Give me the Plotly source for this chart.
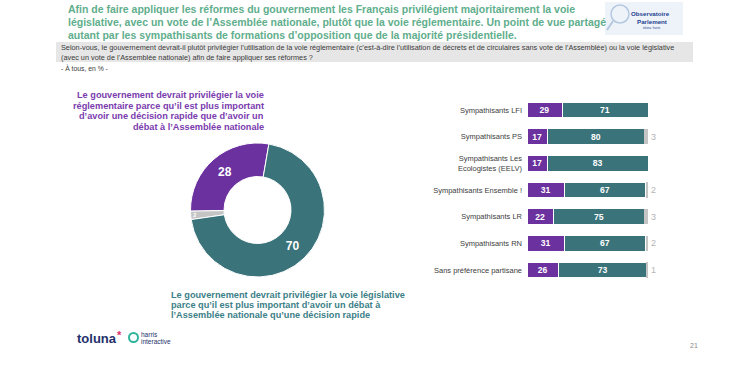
import plotly.graph_objects as go

W, H = 750, 378

# ---------------- data ----------------
donut_labels = ["Voie réglementaire", "Autre", "Voie législative"]
donut_values = [28, 2, 70]

categories = [
    "Sympathisants LFI",
    "Sympathisants PS",
    "Sympathisants Les<br>Ecologistes (EELV)",
    "Sympathisants Ensemble !",
    "Sympathisants LR",
    "Sympathisants RN",
    "Sans préférence partisane",
]
reglementaire = [29, 17, 17, 31, 22, 31, 26]
legislative = [71, 80, 83, 67, 75, 67, 73]
autre = [0, 3, 0, 2, 3, 2, 1]

title_lines = [
    "Afin de faire appliquer les réformes du gouvernement les Français privilégient majoritairement la voie",
    "législative, avec un vote de l’Assemblée nationale, plutôt que la voie réglementaire. Un point de vue partagé",
    "autant par les sympathisants de formations d’opposition que de la majorité présidentielle.",
]
question_lines = [
    "Selon-vous, le gouvernement devrait-il plutôt privilégier l’utilisation de la voie réglementaire (c’est-à-dire l’utilisation de décrets et de circulaires sans vote de l’Assemblée) ou la voie législative",
    "(avec un vote de l’Assemblée nationale) afin de faire appliquer ses réformes ?",
]
base_text = "- À tous, en % -"
purple_lines = [
    "Le gouvernement devrait privilégier la voie",
    "réglementaire parce qu’il est plus important",
    "d’avoir une décision rapide que d’avoir un",
    "débat à l’Assemblée nationale",
]
teal_lines = [
    "Le gouvernement devrait privilégier la voie législative",
    "parce qu’il est plus important d’avoir un débat à",
    "l’Assemblée nationale qu’une décision rapide",
]

# ---------------- styles ----------------
PURPLE = "#6b319e"
TEAL = "#3a747a"
GREY = "#c4c4c4"
GREEN = "#5fae8c"
SANS = "Liberation Sans, Arial, sans-serif"


def px(x):
    return x / W


def py(y):
    return 1 - y / H


fig = go.Figure()

# donut
fig.add_trace(go.Pie(
    labels=donut_labels, values=donut_values, hole=0.5, sort=False,
    direction="counterclockwise", rotation=-91,
    marker=dict(colors=[PURPLE, GREY, TEAL], line=dict(color="white", width=1)),
    textinfo="value", textposition="inside", insidetextorientation="horizontal",
    textfont=dict(color="white", family=SANS, size=12, weight="bold"),
    domain=dict(x=[px(190), px(325)], y=[py(277), py(143)]),
    showlegend=False, hoverinfo="label+value",
))

ypos = list(range(len(categories)))
fig.add_trace(go.Bar(
    y=ypos, x=reglementaire, orientation="h", marker=dict(color=PURPLE, line=dict(color="white", width=1)),
    text=reglementaire, textposition="inside", insidetextanchor="middle",
    textfont=dict(color="white", family=SANS, size=10, weight="bold"),
    width=0.58, showlegend=False, xaxis="x", yaxis="y",
))
fig.add_trace(go.Bar(
    y=ypos, x=legislative, orientation="h", marker=dict(color=TEAL, line=dict(color="white", width=1)),
    text=legislative, textposition="inside", insidetextanchor="middle",
    textfont=dict(color="white", family=SANS, size=10, weight="bold"),
    width=0.58, showlegend=False, xaxis="x", yaxis="y",
))
fig.add_trace(go.Bar(
    y=ypos, x=autre, orientation="h", marker=dict(color=GREY, line=dict(color="white", width=0)),
    text=[str(v) if v else "" for v in autre], textposition="outside",
    textfont=dict(color="#b5b5b5", family=SANS, size=9),
    cliponaxis=False,
    width=0.58, showlegend=False, xaxis="x", yaxis="y",
))

x0, x100 = 527, 648
scale = (x100 - x0) / 100
xr_max = 120
row = 26.67
fig.update_layout(
    barmode="stack",
    width=W, height=H,
    margin=dict(l=0, r=0, t=0, b=0),
    paper_bgcolor="white", plot_bgcolor="white",
    xaxis=dict(domain=[px(x0), px(x0 + xr_max * scale)], range=[0, xr_max],
               visible=False, fixedrange=True),
    yaxis=dict(domain=[py(110 + 6.5 * row), py(110 - 0.5 * row)],
               range=[6.5, -0.5], tickvals=ypos, ticktext=categories,
               tickfont=dict(family=SANS, size=7.5, color="#404040"),
               showgrid=False, zeroline=False, showline=False, ticks="",
               ticklabelstandoff=4, fixedrange=True),
)

ann = []


def line(text, x, y, size, color, family=SANS, bold=False, xanchor="left", align="left"):
    ann.append(dict(
        text=text, x=px(x), y=py(y), xref="paper", yref="paper",
        xanchor=xanchor, yanchor="middle", showarrow=False, align=align,
        font=dict(family=family, size=size, color=color, weight="bold" if bold else "normal"),
    ))


for i, t in enumerate(title_lines):
    line(t, 66, 9 + i * 13, 10.5, GREEN, bold=True)

# question box
fig.add_shape(type="rect", xref="paper", yref="paper",
              x0=px(56), x1=px(693), y0=py(62), y1=py(42),
              fillcolor="#e6e6e6", line=dict(width=0), layer="below")
for i, t in enumerate(question_lines):
    line(t, 59, 47.5 + i * 9.5, 7.3, "#3a3a3a")
line(base_text, 59, 68, 6.8, "#3a3a3a")

for i, t in enumerate(purple_lines):
    line(t, 266, 95 + i * 10.7, 9.2, "#7a3cae", bold=True, xanchor="right", align="right")
for i, t in enumerate(teal_lines):
    line(t, 169, 295 + i * 10.2, 9.2, "#3c8088", bold=True)

# Observatoire logo
fig.add_shape(type="rect", xref="paper", yref="paper",
              x0=px(605), x1=px(683), y0=py(35), y1=py(2),
              fillcolor="#eef3f9", line=dict(width=0))
fig.add_shape(type="circle", xref="paper", yref="paper",
              x0=px(611), x1=px(629), y0=py(23), y1=py(5),
              fillcolor="rgba(0,0,0,0)", line=dict(color="#b3c8e0", width=1.5))
fig.add_shape(type="line", xref="paper", yref="paper",
              x0=px(613), x1=px(607), y0=py(21), y1=py(30),
              line=dict(color="#b3c8e0", width=2))
line("Observatoire", 650, 13, 6.2, "#1f3f8f", bold=True, xanchor="center", align="center")
line("Parlement", 652, 21, 6.2, "#1f3f8f", bold=True, xanchor="center", align="center")
line("toluna  harris", 652, 28.5, 3, "#1f3f8f", xanchor="center", align="center")

# footer logos
line("toluna", 75, 338, 13, "#23306b", bold=True)
line("*", 115, 335, 11, "#e0306a", bold=True)
fig.add_shape(type="circle", xref="paper", yref="paper",
              x0=px(129), x1=px(138), y0=py(342), y1=py(333),
              fillcolor="rgba(0,0,0,0)", line=dict(color="#2fb39b", width=2))
line("harris", 139, 334, 6.5, "#23306b")
line("interactive", 139, 341.5, 6.5, "#23306b")
line("21", 688, 345, 7, "#888888")

fig.update_layout(annotations=ann)
fig.write_html("out.html", config={"displayModeBar": False},
               post_script="document.body.style.margin='0px';")
